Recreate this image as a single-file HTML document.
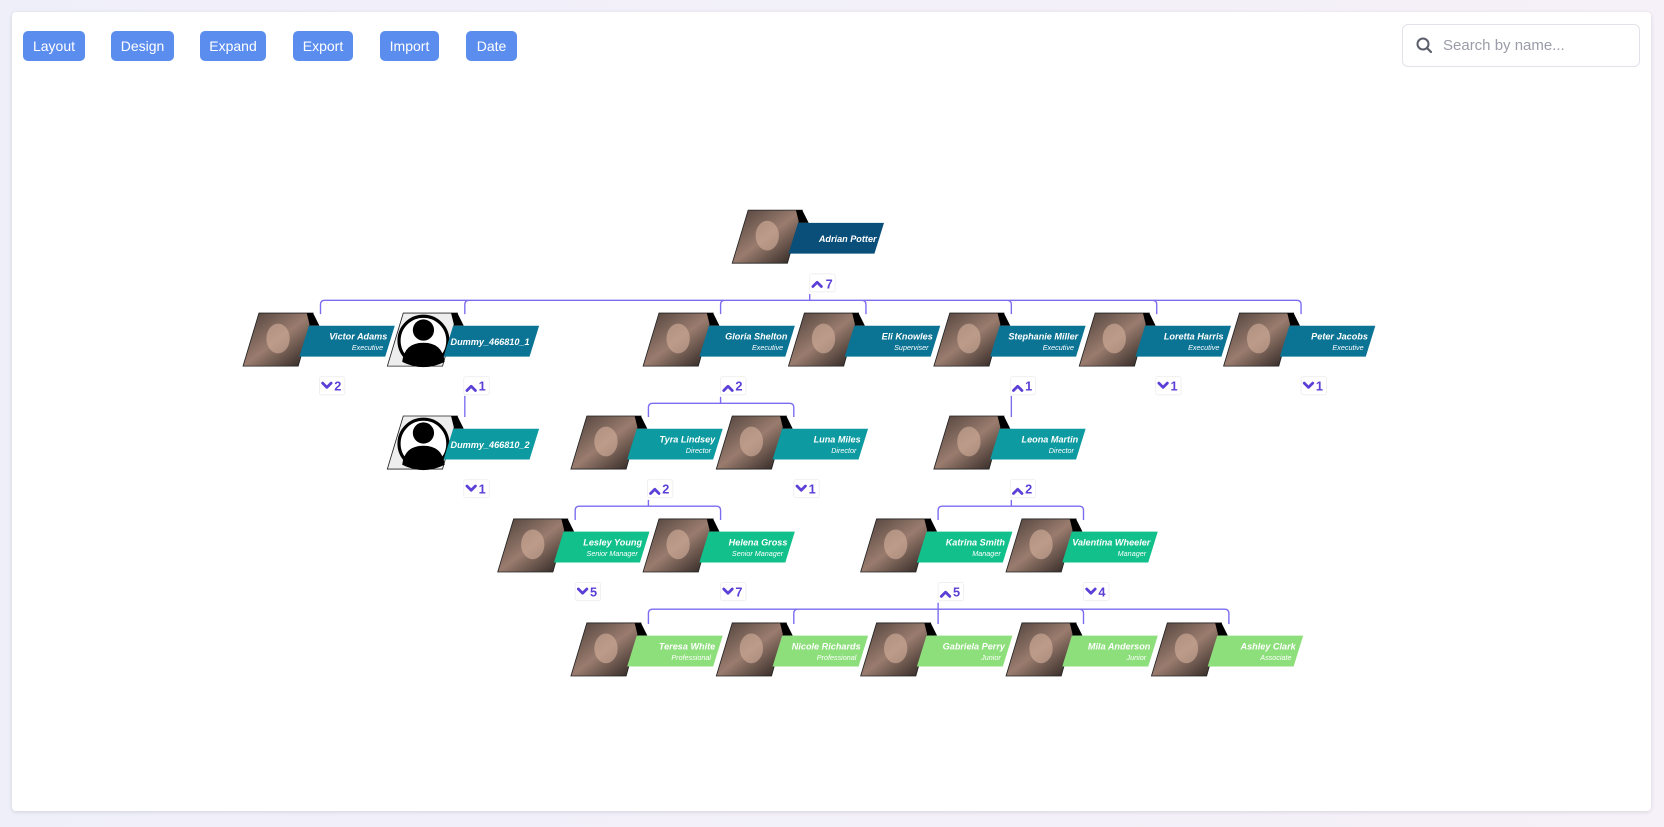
<!DOCTYPE html>
<html><head><meta charset="utf-8">
<style>
html,body{margin:0;padding:0;width:1664px;height:827px;overflow:hidden;background:linear-gradient(90deg,#efeffa,#f6f0f8);font-family:"Liberation Sans",sans-serif}
.card{position:absolute;left:12px;top:12px;width:1639px;height:799px;background:#fff;border-radius:4px;box-shadow:0 1px 4px rgba(0,0,0,.12)}
.btn{position:absolute;top:31px;height:30px;background:#5b8def;color:#fff;border-radius:5px;font-size:14px;line-height:30px;text-align:center}
.search{position:absolute;left:1402px;top:24px;width:238px;height:43px;border:1.5px solid #e2e2ea;border-radius:6px;box-sizing:border-box}
.search span{position:absolute;left:40px;top:12px;font-size:15px;color:#9a9ca8}
svg{position:absolute;left:0;top:0}
.n{font:italic bold 8.6px "Liberation Sans",sans-serif;fill:#fff;text-anchor:end}
.t{font:italic 6.8px "Liberation Sans",sans-serif;fill:#fff;text-anchor:end}
.e{font:bold 12px "Liberation Sans",sans-serif;fill:#5b3fd6}
</style></head><body>
<div class="card"></div>
<div class="btn" style="left:23px;width:62px">Layout</div>
<div class="btn" style="left:111px;width:63px">Design</div>
<div class="btn" style="left:200px;width:66px">Expand</div>
<div class="btn" style="left:293px;width:60px">Export</div>
<div class="btn" style="left:380px;width:59px">Import</div>
<div class="btn" style="left:466px;width:51px">Date</div>
<div class="search">
<svg width="20" height="20" style="left:12px;top:11px" viewBox="0 0 20 20"><circle cx="8" cy="8" r="5.5" fill="none" stroke="#5a5e6a" stroke-width="2"/><line x1="12" y1="12" x2="16" y2="16" stroke="#5a5e6a" stroke-width="2.2" stroke-linecap="round"/></svg>
<span>Search by name...</span></div>

<svg width="1664" height="827" viewBox="0 0 1568 779.3">
<defs>
<linearGradient id="p" x1="0" y1="0" x2="1" y2="1"><stop offset="0" stop-color="#4a3d38"/><stop offset=".5" stop-color="#9a7c6e"/><stop offset="1" stop-color="#221c1a"/></linearGradient>
<g id="ph"><polygon points="0,50 15,0 66,0 52,50" fill="url(#p)" stroke="#222" stroke-width=".8"/><ellipse cx="33" cy="24" rx="11" ry="14" fill="#d6b19c" opacity=".6"/><polygon points="60,0 66,0 72,12 63,12" fill="#000"/></g>
<g id="dm"><polygon points="0,50 15,0 66,0 52,50" fill="#eee" stroke="#222" stroke-width=".8"/><circle cx="34" cy="26" r="23" fill="#fff" stroke="#000" stroke-width="3"/><circle cx="34" cy="16" r="10" fill="#000"/><path d="M14,46 Q16,28 34,28 Q52,28 54,46 Q34,56 14,46Z" fill="#000"/><polygon points="60,0 66,0 72,12 63,12" fill="#000"/></g>
<g id="bx"><rect x="-3" y="-9" width="24" height="17" fill="#fff" stroke="#eee" stroke-width=".8" rx="2"/></g>
</defs>
<g fill="none" stroke="#7b6cf0" stroke-width="1.3">
<path d="M763,277V283M763,283H306Q302,283 302,287V296M763,283H442Q438,283 438,287V296M763,283H683Q679,283 679,287V296M763,283H812Q816,283 816,287V296M763,283H949Q953,283 953,287V296M763,283H1086Q1090,283 1090,287V296M763,283H1222Q1226,283 1226,287V296"/>
<path d="M438,373V393"/>
<path d="M679,374V380M679,380H615Q611,380 611,384V393M679,380H744Q748,380 748,384V393"/>
<path d="M953,373V393"/>
<path d="M611,471V477M611,477H546Q542,477 542,481V490M611,477H675Q679,477 679,481V490"/>
<path d="M953,471V477M953,477H888Q884,477 884,481V490M953,477H1017Q1021,477 1021,481V490"/>
<path d="M884,568V574M884,574H615Q611,574 611,578V588M884,574H752Q748,574 748,578V588M884,574V588M884,574H1017Q1021,574 1021,578V588M884,574H1154Q1158,574 1158,578V588"/>
</g>

<g transform="translate(690,198)"><use href="#ph"/><polygon points="53,41 62,12 143,12 134,41" fill="#0a4f7a"/><text x="136" y="30" class="n">Adrian Potter</text></g>

<g transform="translate(229,295)"><use href="#ph"/><polygon points="53,41 62,12 143,12 134,41" fill="#0b7394"/><text x="136" y="25" class="n">Victor Adams</text><text x="132" y="35" class="t">Executive</text></g>
<g transform="translate(365,295)"><use href="#dm"/><polygon points="53,41 62,12 143,12 134,41" fill="#0b7394"/><text x="134" y="30" class="n">Dummy_466810_1</text></g>
<g transform="translate(606,295)"><use href="#ph"/><polygon points="53,41 62,12 143,12 134,41" fill="#0b7394"/><text x="136" y="25" class="n">Gloria Shelton</text><text x="132" y="35" class="t">Executive</text></g>
<g transform="translate(743,295)"><use href="#ph"/><polygon points="53,41 62,12 143,12 134,41" fill="#0b7394"/><text x="136" y="25" class="n">Eli Knowles</text><text x="132" y="35" class="t">Superviser</text></g>
<g transform="translate(880,295)"><use href="#ph"/><polygon points="53,41 62,12 143,12 134,41" fill="#0b7394"/><text x="136" y="25" class="n">Stephanie Miller</text><text x="132" y="35" class="t">Executive</text></g>
<g transform="translate(1017,295)"><use href="#ph"/><polygon points="53,41 62,12 143,12 134,41" fill="#0b7394"/><text x="136" y="25" class="n">Loretta Harris</text><text x="132" y="35" class="t">Executive</text></g>
<g transform="translate(1153,295)"><use href="#ph"/><polygon points="53,41 62,12 143,12 134,41" fill="#0b7394"/><text x="136" y="25" class="n">Peter Jacobs</text><text x="132" y="35" class="t">Executive</text></g>

<g transform="translate(365,392)"><use href="#dm"/><polygon points="53,41 62,12 143,12 134,41" fill="#0d9aa0"/><text x="134" y="30" class="n">Dummy_466810_2</text></g>
<g transform="translate(538,392)"><use href="#ph"/><polygon points="53,41 62,12 143,12 134,41" fill="#0d9aa0"/><text x="136" y="25" class="n">Tyra Lindsey</text><text x="132" y="35" class="t">Director</text></g>
<g transform="translate(675,392)"><use href="#ph"/><polygon points="53,41 62,12 143,12 134,41" fill="#0d9aa0"/><text x="136" y="25" class="n">Luna Miles</text><text x="132" y="35" class="t">Director</text></g>
<g transform="translate(880,392)"><use href="#ph"/><polygon points="53,41 62,12 143,12 134,41" fill="#0d9aa0"/><text x="136" y="25" class="n">Leona Martin</text><text x="132" y="35" class="t">Director</text></g>

<g transform="translate(469,489)"><use href="#ph"/><polygon points="53,41 62,12 143,12 134,41" fill="#11c08a"/><text x="136" y="25" class="n">Lesley Young</text><text x="132" y="35" class="t">Senior Manager</text></g>
<g transform="translate(606,489)"><use href="#ph"/><polygon points="53,41 62,12 143,12 134,41" fill="#11c08a"/><text x="136" y="25" class="n">Helena Gross</text><text x="132" y="35" class="t">Senior Manager</text></g>
<g transform="translate(811,489)"><use href="#ph"/><polygon points="53,41 62,12 143,12 134,41" fill="#11c08a"/><text x="136" y="25" class="n">Katrina Smith</text><text x="132" y="35" class="t">Manager</text></g>
<g transform="translate(948,489)"><use href="#ph"/><polygon points="53,41 62,12 143,12 134,41" fill="#11c08a"/><text x="136" y="25" class="n">Valentina Wheeler</text><text x="132" y="35" class="t">Manager</text></g>

<g transform="translate(538,587)"><use href="#ph"/><polygon points="53,41 62,12 143,12 134,41" fill="#8ddf7b"/><text x="136" y="25" class="n">Teresa White</text><text x="132" y="35" class="t">Professional</text></g>
<g transform="translate(675,587)"><use href="#ph"/><polygon points="53,41 62,12 143,12 134,41" fill="#8ddf7b"/><text x="136" y="25" class="n">Nicole Richards</text><text x="132" y="35" class="t">Professional</text></g>
<g transform="translate(811,587)"><use href="#ph"/><polygon points="53,41 62,12 143,12 134,41" fill="#8ddf7b"/><text x="136" y="25" class="n">Gabriela Perry</text><text x="132" y="35" class="t">Junior</text></g>
<g transform="translate(948,587)"><use href="#ph"/><polygon points="53,41 62,12 143,12 134,41" fill="#8ddf7b"/><text x="136" y="25" class="n">Mila Anderson</text><text x="132" y="35" class="t">Junior</text></g>
<g transform="translate(1085,587)"><use href="#ph"/><polygon points="53,41 62,12 143,12 134,41" fill="#8ddf7b"/><text x="136" y="25" class="n">Ashley Clark</text><text x="132" y="35" class="t">Associate</text></g>

<use href="#bx" x="766" y="267"/>
<use href="#bx" x="304" y="364"/><use href="#bx" x="440" y="364"/><use href="#bx" x="682" y="364"/><use href="#bx" x="955" y="364"/><use href="#bx" x="1092" y="364"/><use href="#bx" x="1229" y="364"/>
<use href="#bx" x="440" y="461"/><use href="#bx" x="613" y="461"/><use href="#bx" x="751" y="461"/><use href="#bx" x="955" y="461"/>
<use href="#bx" x="545" y="558"/><use href="#bx" x="682" y="558"/><use href="#bx" x="887" y="558"/><use href="#bx" x="1024" y="558"/>

<g stroke="#5b3fd6" stroke-width="2.6" fill="none" stroke-linecap="round" stroke-linejoin="round">
<path d="M766,270l4,-4l4,4"/>
<path d="M304,361l4,4l4,-4"/><path d="M440,368l4,-4l4,4"/><path d="M682,368l4,-4l4,4"/><path d="M955,368l4,-4l4,4"/><path d="M1092,361l4,4l4,-4"/><path d="M1229,361l4,4l4,-4"/>
<path d="M440,458l4,4l4,-4"/><path d="M613,465l4,-4l4,4"/><path d="M751,458l4,4l4,-4"/><path d="M955,465l4,-4l4,4"/>
<path d="M545,555l4,4l4,-4"/><path d="M682,555l4,4l4,-4"/><path d="M887,562l4,-4l4,4"/><path d="M1024,555l4,4l4,-4"/>
</g>
<text class="e" x="778" y="272">7</text>
<text class="e" x="315" y="368">2</text><text class="e" x="451" y="368">1</text><text class="e" x="693" y="368">2</text><text class="e" x="966" y="368">1</text><text class="e" x="1103" y="368">1</text><text class="e" x="1240" y="368">1</text>
<text class="e" x="451" y="465">1</text><text class="e" x="624" y="465">2</text><text class="e" x="762" y="465">1</text><text class="e" x="966" y="465">2</text>
<text class="e" x="556" y="562">5</text><text class="e" x="693" y="562">7</text><text class="e" x="898" y="562">5</text><text class="e" x="1035" y="562">4</text>
</svg>
</body></html>
